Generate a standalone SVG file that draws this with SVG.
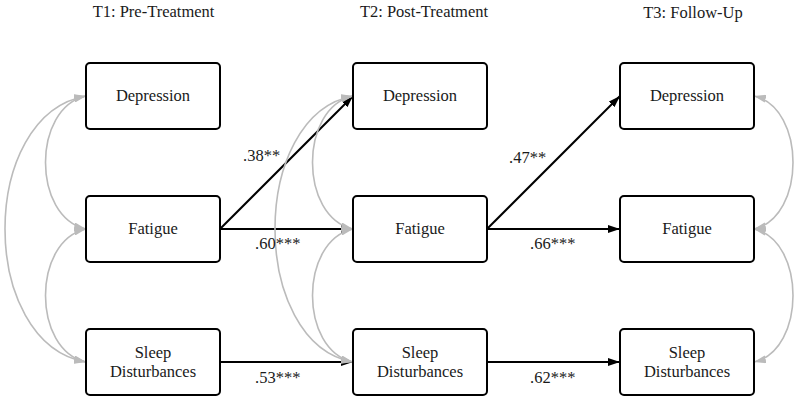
<svg xmlns="http://www.w3.org/2000/svg" width="800" height="403" viewBox="0 0 800 403">
<defs>
<marker id="ab" viewBox="0 0 12 8" refX="12" refY="4" markerWidth="12" markerHeight="8" markerUnits="userSpaceOnUse" orient="auto"><path d="M0,0 L12,4 L0,8 Z" fill="#000"/></marker>
<marker id="ag" viewBox="0 0 12 8" refX="12" refY="4" markerWidth="12" markerHeight="8" markerUnits="userSpaceOnUse" orient="auto-start-reverse"><path d="M0,0 L12,4 L0,8 Z" fill="#bbb"/></marker>
</defs>
<style>
.box{fill:#fff;stroke:#000;stroke-width:2}
text{font-family:"Liberation Serif","Times New Roman",serif;font-size:16.5px;fill:#1a1a1a}
.c{text-anchor:middle}
.p{stroke:#000;stroke-width:2;fill:none;marker-end:url(#ab)}
.g{stroke:#bbb;stroke-width:1.6;fill:none;marker-start:url(#ag);marker-end:url(#ag)}
</style>
<g id="headers">
<text class="c" x="153.5" y="17">T1: Pre-Treatment</text>
<text class="c" x="424" y="17">T2: Post-Treatment</text>
<text class="c" x="693" y="18">T3: Follow-Up</text>
</g>
<g id="connectors">
<path class="p" d="M220,229 L353,96"/>
<path class="p" d="M220,229 L353,229"/>
<path class="p" d="M220,362 L353,362"/>
<path class="p" d="M487,229 L620,96"/>
<path class="p" d="M487,229 L620,229"/>
<path class="p" d="M487,362 L620,362"/>
<path class="g" d="M86,96 C32,108 32,217 86,229"/>
<path class="g" d="M86,229 C32,241 32,350 86,362"/>
<path class="g" d="M86,96 C-22,115 -22,343 86,362"/>
<path class="g" d="M353,96 C299,108 299,217 353,229"/>
<path class="g" d="M353,229 C299,241 299,350 353,362"/>
<path class="g" d="M353,96 C249,115 249,343 353,362"/>
<path class="g" d="M754,96 C806,108 806,217 754,229"/>
<path class="g" d="M754,229 C806,241 806,350 754,362"/>
<text x="243" y="161">.38**</text>
<text x="255" y="249">.60***</text>
<text x="255" y="383">.53***</text>
<text x="509" y="163">.47**</text>
<text x="530" y="249">.66***</text>
<text x="530" y="383">.62***</text>
</g>
<g id="t1-depression"><rect class="box" x="86" y="63" width="134" height="66" rx="4"/><text class="c" x="153" y="101">Depression</text></g>
<g id="t1-fatigue"><rect class="box" x="86" y="196" width="134" height="66" rx="4"/><text class="c" x="153" y="234">Fatigue</text></g>
<g id="t1-sleep"><rect class="box" x="86" y="329" width="134" height="66" rx="4"/><text class="c" x="153" y="358">Sleep</text><text class="c" x="153" y="377">Disturbances</text></g>
<g id="t2-depression"><rect class="box" x="353" y="63" width="134" height="66" rx="4"/><text class="c" x="420" y="101">Depression</text></g>
<g id="t2-fatigue"><rect class="box" x="353" y="196" width="134" height="66" rx="4"/><text class="c" x="420" y="234">Fatigue</text></g>
<g id="t2-sleep"><rect class="box" x="353" y="329" width="134" height="66" rx="4"/><text class="c" x="420" y="358">Sleep</text><text class="c" x="420" y="377">Disturbances</text></g>
<g id="t3-depression"><rect class="box" x="620" y="63" width="134" height="66" rx="4"/><text class="c" x="687" y="101">Depression</text></g>
<g id="t3-fatigue"><rect class="box" x="620" y="196" width="134" height="66" rx="4"/><text class="c" x="687" y="234">Fatigue</text></g>
<g id="t3-sleep"><rect class="box" x="620" y="329" width="134" height="66" rx="4"/><text class="c" x="687" y="358">Sleep</text><text class="c" x="687" y="377">Disturbances</text></g>
</svg>
